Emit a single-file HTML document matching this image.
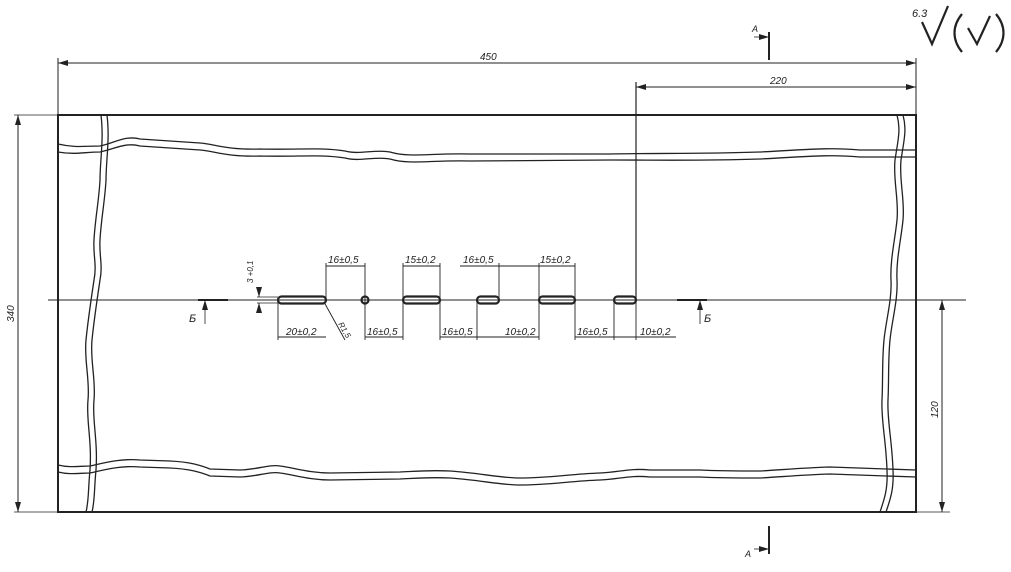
<!DOCTYPE html>
<html><head><meta charset="utf-8"><style>
html,body{margin:0;padding:0;background:#fff;}
svg{display:block}
text{font-family:"Liberation Sans",sans-serif;font-style:italic;fill:#222;}
</style></head><body>
<svg width="1011" height="572" viewBox="0 0 1011 572" xmlns="http://www.w3.org/2000/svg">
<defs>
<marker id="ar" viewBox="0 0 10 6" refX="10" refY="3" markerWidth="10" markerHeight="6" orient="auto-start-reverse" markerUnits="userSpaceOnUse"><path d="M0,0 L10,3 L0,6 z" fill="#222"/></marker>
</defs>
<g stroke="#222" fill="none">
<!-- outer rect -->
<rect x="58" y="115" width="858" height="397" stroke-width="2"/>
<!-- center line -->
<line x1="48" y1="300" x2="966" y2="300" stroke-width="1"/>
<!-- 450 dim -->
<line x1="58" y1="115" x2="58" y2="58" stroke-width="1"/>
<line x1="916" y1="115" x2="916" y2="58" stroke-width="1"/>
<line x1="58" y1="63" x2="916" y2="63" stroke-width="1" marker-start="url(#ar)" marker-end="url(#ar)"/>
<!-- 220 dim -->
<line x1="636" y1="82" x2="636" y2="300" stroke-width="1.2"/>
<line x1="636" y1="87" x2="916" y2="87" stroke-width="1" marker-start="url(#ar)" marker-end="url(#ar)"/>
<!-- 340 dim -->
<line x1="14" y1="115" x2="58" y2="115" stroke-width="0.8"/>
<line x1="14" y1="512" x2="58" y2="512" stroke-width="0.8"/>
<line x1="18" y1="115" x2="18" y2="512" stroke-width="1" marker-start="url(#ar)" marker-end="url(#ar)"/>
<!-- 120 dim -->
<line x1="916" y1="512" x2="950" y2="512" stroke-width="0.8"/>
<line x1="942" y1="300" x2="942" y2="512" stroke-width="1" marker-start="url(#ar)" marker-end="url(#ar)"/>
<!-- wavy breaks top -->
<g stroke-width="1.3">
<path d="M58,144 C75,148 85,146 100,146 C115,143 125,135 140,139 L200,143 C215,144 225,150 260,149 C300,150 320,147 345,151 C360,155 375,149 390,152 C410,158 430,153 470,154 L610,154 C660,153 700,154 760,152 C800,150 830,147 860,150 L916,150"/>
<path d="M58,152 C75,155 85,152 100,152 C115,149 125,142 140,146 L200,150 C215,151 225,157 260,156 C300,157 320,154 345,158 C360,162 375,156 390,159 C410,165 430,160 470,161 L610,160 C660,160 700,161 760,159 C800,157 830,154 860,157 L916,157"/>
<!-- bottom -->
<path d="M58,465 C70,468 80,466 90,466 C100,464 120,458 140,460 L170,461 C190,462 200,465 210,469 L240,470 C255,470 270,464 280,466 C295,468 310,473 330,473 L400,472 C420,471 430,470 450,471 C480,473 500,478 520,478 C550,478 570,474 600,473 C620,472 630,468 650,470 L700,470 C720,471 740,471 760,471 C780,470 800,468 830,467 L916,470"/>
<path d="M58,472 C70,475 80,473 90,473 C100,471 120,465 140,467 L170,468 C190,469 200,472 210,476 L240,477 C255,477 270,471 280,473 C295,475 310,480 330,480 L400,479 C420,478 430,477 450,478 C480,480 500,485 520,485 C550,485 570,481 600,480 C620,479 630,475 650,477 L700,477 C720,478 740,478 760,478 C780,477 800,475 830,474 L916,477"/>
<!-- left vertical -->
<path d="M101,115 C104,140 100,160 100,180 C99,200 95,220 94,240 C93,255 97,265 94,280 C91,300 88,320 86,340 C84,360 90,380 88,400 C86,420 92,440 90,470 C88,490 89,500 86,512"/>
<path d="M107,115 C110,140 106,160 106,180 C105,200 101,220 100,240 C99,255 103,265 100,280 C97,300 94,320 92,340 C90,360 96,380 94,400 C92,420 98,440 96,470 C94,490 95,500 92,512"/>
<!-- right vertical -->
<path d="M897,115 C901,130 898,140 895,160 C893,180 899,200 897,220 C895,240 890,260 891,280 C892,300 886,320 884,340 C882,360 883,380 882,400 C881,420 886,440 887,470 C888,490 884,500 880,512"/>
<path d="M903,115 C907,130 904,140 901,160 C899,180 905,200 903,220 C901,240 896,260 897,280 C898,300 892,320 890,340 C888,360 889,380 888,400 C887,420 892,440 893,470 C894,490 890,500 886,512"/>
</g>
<!-- slots -->
<g stroke-width="2.2">
<rect x="278" y="296.5" width="48" height="7" rx="3.5"/>
<circle cx="365" cy="300" r="3.5"/>
<rect x="403" y="296.5" width="37" height="7" rx="3.5"/>
<rect x="477" y="296.5" width="22" height="7" rx="3.5"/>
<rect x="539" y="296.5" width="36" height="7" rx="3.5"/>
<rect x="614" y="296.5" width="22" height="7" rx="3.5"/>
</g>
<!-- 3+0.1 -->
<g stroke-width="0.8">
<line x1="257" y1="297" x2="278" y2="297"/>
<line x1="257" y1="303" x2="278" y2="303"/>
<line x1="259" y1="287" x2="259" y2="297" marker-end="url(#ar)"/>
<line x1="259" y1="313" x2="259" y2="303" marker-end="url(#ar)"/>
</g>
<!-- extension lines -->
<g stroke-width="0.9">
<line x1="278" y1="300" x2="278" y2="340"/><line x1="326" y1="300" x2="326" y2="263"/>
<line x1="365" y1="300" x2="365" y2="263"/><line x1="365" y1="300" x2="365" y2="340"/>
<line x1="403" y1="300" x2="403" y2="263"/><line x1="403" y1="300" x2="403" y2="340"/>
<line x1="440" y1="300" x2="440" y2="263"/><line x1="440" y1="300" x2="440" y2="340"/>
<line x1="477" y1="300" x2="477" y2="340"/>
<line x1="499" y1="300" x2="499" y2="263"/>
<line x1="539" y1="300" x2="539" y2="263"/><line x1="539" y1="300" x2="539" y2="340"/>
<line x1="575" y1="300" x2="575" y2="263"/><line x1="575" y1="300" x2="575" y2="340"/>
<line x1="614" y1="300" x2="614" y2="340"/>
<line x1="636" y1="300" x2="636" y2="340"/>
<!-- top dims -->
<line x1="326" y1="266" x2="365" y2="266"/>
<line x1="403" y1="266" x2="440" y2="266"/>
<line x1="460" y1="266" x2="539" y2="266"/>
<line x1="539" y1="266" x2="575" y2="266"/>
<!-- bottom dims -->
<line x1="278" y1="337" x2="326" y2="337"/>
<line x1="365" y1="337" x2="403" y2="337"/>
<line x1="440" y1="337" x2="477" y2="337"/>
<line x1="477" y1="337" x2="539" y2="337"/>
<line x1="575" y1="337" x2="614" y2="337"/>
<line x1="614" y1="337" x2="676" y2="337"/>
<!-- R leader -->
<line x1="324" y1="302" x2="345" y2="340"/>
</g>
<!-- section marks B -->
<g stroke-width="2">
<line x1="198" y1="300" x2="228" y2="300"/>
<line x1="677" y1="300" x2="707" y2="300"/>
</g>
<line x1="205" y1="300" x2="205" y2="324" stroke-width="0.8" marker-start="url(#ar)"/>
<line x1="700" y1="300" x2="700" y2="324" stroke-width="0.8" marker-start="url(#ar)"/>
<!-- section A -->
<line x1="769" y1="32" x2="769" y2="60" stroke-width="2"/>
<line x1="754" y1="37" x2="769" y2="37" stroke-width="0.8" marker-end="url(#ar)"/>
<line x1="769" y1="526" x2="769" y2="554" stroke-width="2"/>
<line x1="754" y1="549" x2="769" y2="549" stroke-width="0.8" marker-end="url(#ar)"/>
<!-- roughness -->
<g stroke-width="2.2">
<polyline points="922,22 932,44 948,6"/>
<path d="M962,14 C952,26 952,40 962,52"/>
<polyline points="968,28 977,44 990,16"/>
<path d="M996,14 C1006,26 1006,40 996,52"/>
</g>
</g>
<g font-size="10">
<text x="480" y="60">450</text>
<text x="770" y="84">220</text>
<text x="752" y="32" font-size="9">A</text>
<text x="745" y="557" font-size="9">A</text>
<text x="912" y="17" font-size="11">6.3</text>
<text transform="translate(14,322) rotate(-90)">340</text>
<text transform="translate(938,418) rotate(-90)">120</text>
<text x="189" y="322" font-size="11">Б</text>
<text x="704" y="322" font-size="11">Б</text>
<text transform="translate(253,283) rotate(-90)" font-size="8">3 +0,1</text>
<text x="328" y="263">16±0,5</text>
<text x="405" y="263">15±0,2</text>
<text x="463" y="263">16±0,5</text>
<text x="540" y="263">15±0,2</text>
<text x="286" y="335">20±0,2</text>
<text x="367" y="335">16±0,5</text>
<text x="442" y="335">16±0,5</text>
<text x="505" y="335">10±0,2</text>
<text x="577" y="335">16±0,5</text>
<text x="640" y="335">10±0,2</text>
<text transform="translate(338,324) rotate(60)" font-size="8">R1,5</text>
</g>
</svg>
</body></html>
